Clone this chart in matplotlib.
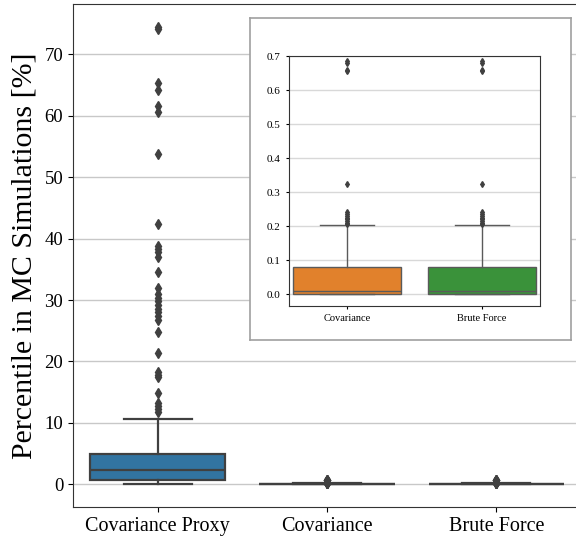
import matplotlib
matplotlib.use("Agg")
import matplotlib.pyplot as plt
import numpy as np

plt.rcParams['font.family'] = ['Liberation Serif', 'DejaVu Serif']

# data
labels = ["Covariance Proxy", "Covariance", "Brute Force"]
colors = ["#3274a1", "#e1812c", "#3a923a"]

proxy_q1, proxy_med, proxy_q3 = 0.7, 2.4, 5.0
proxy_lo, proxy_hi = 0.0, 10.7
proxy_fliers = [11.7, 12.3, 12.8, 13.3, 14.8, 17.4, 17.8, 18.2, 21.4, 24.8,
                26.8, 27.4, 28.0, 28.6, 29.2, 29.8, 30.4, 30.9, 32.0, 34.6,
                37.0, 37.8, 38.3, 38.8, 42.3, 53.7, 60.6, 61.6, 64.2, 65.4,
                74.1, 74.5]

cov_q1, cov_med, cov_q3 = 0.0, 0.01, 0.081
cov_lo, cov_hi = 0.0, 0.202
cov_fliers = [0.205, 0.21, 0.215, 0.22, 0.225, 0.23, 0.235, 0.24, 0.324,
              0.655, 0.66, 0.68, 0.686]

bf_q1, bf_med, bf_q3 = 0.0, 0.01, 0.081
bf_lo, bf_hi = 0.0, 0.202
bf_fliers = [0.205, 0.21, 0.215, 0.22, 0.225, 0.23, 0.235, 0.24, 0.324,
             0.655, 0.66, 0.68, 0.686]


def stats(q1, med, q3, lo, hi, fl):
    return dict(q1=q1, med=med, q3=q3, whislo=lo, whishi=hi, fliers=fl)


all_stats = [stats(proxy_q1, proxy_med, proxy_q3, proxy_lo, proxy_hi, proxy_fliers),
             stats(cov_q1, cov_med, cov_q3, cov_lo, cov_hi, cov_fliers),
             stats(bf_q1, bf_med, bf_q3, bf_lo, bf_hi, bf_fliers)]

line_c = "#404040"


def draw_box(ax, st, pos, cols, lw, ms, lc=line_c):
    bp = ax.bxp(st, positions=pos, widths=0.8, capwidths=0.4, patch_artist=True,
                boxprops=dict(linewidth=lw, edgecolor=lc),
                medianprops=dict(color=lc, linewidth=lw),
                whiskerprops=dict(color=lc, linewidth=lw),
                capprops=dict(color=lc, linewidth=lw),
                flierprops=dict(marker='d', markerfacecolor=line_c,
                                markeredgecolor=line_c, markersize=ms))
    for patch, c in zip(bp['boxes'], cols):
        patch.set_facecolor(c)
    return bp


fig = plt.figure(figsize=(5.76, 5.37), dpi=100)

ax = fig.add_axes([0.1267, 0.0559, 0.882, 0.9367])
draw_box(ax, all_stats, [0, 1, 2], colors, 1.6, 5)
ax.set_xlim(-0.5, 2.5)
ax.set_ylim(-3.7, 78.2)
ax.set_xticks([0, 1, 2])
ax.set_xticklabels(labels, fontsize=14.5)
ax.set_yticks(np.arange(0, 71, 10))
ax.tick_params(axis='y', labelsize=13.5)
ax.yaxis.grid(True, color="#c8c8c8", linewidth=1)
ax.set_axisbelow(True)
for s in ax.spines.values():
    s.set_color("#333333")
ax.set_ylabel("Percentile in MC Simulations [%]", fontsize=21.5, labelpad=5)

# inset frame
frame = fig.add_axes([0.434, 0.3669, 0.557, 0.5996])
frame.set_xticks([])
frame.set_yticks([])
for s in frame.spines.values():
    s.set_color("#a0a0a0")
    s.set_linewidth(1.2)

ins = fig.add_axes([0.5017, 0.4302, 0.4358, 0.4655])
draw_box(ins, all_stats[1:], [0, 1], colors[1:], 1.0, 3, lc="#5a5a5a")
ins.set_xlim(-0.43, 1.43)
ins.set_ylim(-0.035, 0.7)
ins.set_xticks([0, 1])
ins.set_xticklabels(labels[1:], fontsize=7.5)
ins.set_yticks(np.arange(0, 0.71, 0.1))
ins.set_yticklabels(["%.1f" % v for v in np.arange(0, 0.71, 0.1)])
ins.tick_params(axis='y', labelsize=8, length=2.5)
ins.tick_params(axis='x', length=2.5)
ins.yaxis.grid(True, color="#d8d8d8", linewidth=1)
ins.set_axisbelow(True)
for s in ins.spines.values():
    s.set_color("#333333")

fig.savefig("out.png", dpi=100)
